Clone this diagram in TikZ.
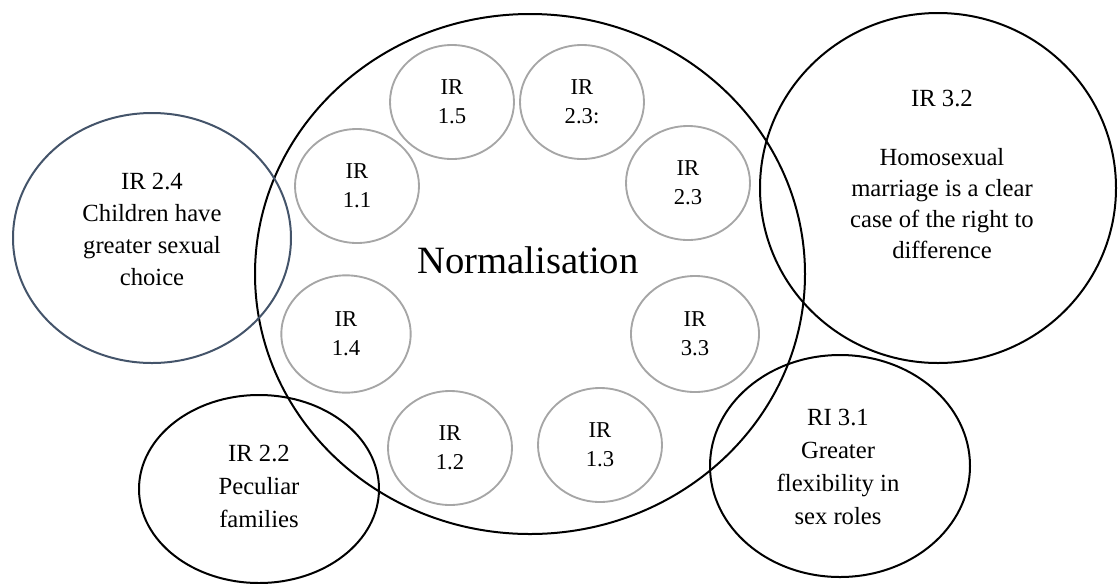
\documentclass[tikz,border=0pt]{standalone}
\usepackage{fontspec}
\setmainfont{Liberation Serif}
\usetikzlibrary{shapes.geometric}

\definecolor{bubblegray}{HTML}{A6A6A6}
\definecolor{slateblue}{HTML}{44546A}

\begin{document}
\begin{tikzpicture}[x=0.75pt, y=-0.75pt,
    ring/.style={ellipse, draw=black, line width=1.5pt, inner sep=0pt},
    irbubble/.style={ellipse, draw=bubblegray, line width=1.4pt, inner sep=0pt, align=center,
        minimum width=93pt, minimum height=85.5pt, font=\fontsize{17}{21.75}\selectfont},
    caption/.style={align=center, inner sep=0pt, font=\fontsize{18.5}{24}\selectfont}]
    \useasboundingbox (0,0) rectangle (1118,583);

    % main ring
    \node[ring, minimum width=412.5pt, minimum height=390pt] (norm) at (530,274) {};
    \node[inner sep=0pt, font=\fontsize{29}{34}\selectfont] (normtext) at (528,260) {Normalisation};

    % inner bubbles
    \node[irbubble] (ir15) at (452,102) {IR\\1.5};
    \node[irbubble] (ir23a) at (582,102) {IR\\2.3:};
    \node[irbubble] (ir11) at (357,186) {IR\\1.1};
    \node[irbubble] (ir23b) at (688,183) {IR\\2.3};
    \node[irbubble, minimum width=97pt, minimum height=88pt] (ir14) at (346,334) {IR\\1.4};
    \node[irbubble, minimum width=96pt, minimum height=87pt] (ir33) at (695,334) {IR\\3.3};
    \node[irbubble] (ir12) at (450,448) {IR\\1.2};
    \node[irbubble] (ir13) at (600,445) {IR\\1.3};

    % outer circles
    \node[ring, draw=slateblue, minimum width=208.5pt, minimum height=187.5pt] (ir24) at (152,238) {};
    \node[caption] (ir24text) at (152,229) {IR 2.4\\Children have\\greater sexual\\choice};

    \node[ring, minimum width=267pt, minimum height=262.5pt] (ir32) at (938,188) {};
    \node[caption, font=\fontsize{18.5}{23.25}\selectfont] (ir32text) at (942,174)
        {IR 3.2\\[21pt]Homosexual\\marriage is a clear\\case of the right to\\difference};

    \node[ring, minimum width=195pt, minimum height=166.5pt] (ri31) at (840,466) {};
    \node[caption, font=\fontsize{18.5}{24.75}\selectfont] (ri31text) at (838,467)
        {RI 3.1\\Greater\\flexibility in\\sex roles};

    \node[ring, minimum width=180pt, minimum height=141pt] (ir22) at (259,489) {};
    \node[caption, font=\fontsize{18.5}{24.75}\selectfont] (ir22text) at (259,486)
        {IR 2.2\\Peculiar\\families};

\end{tikzpicture}
\end{document}
